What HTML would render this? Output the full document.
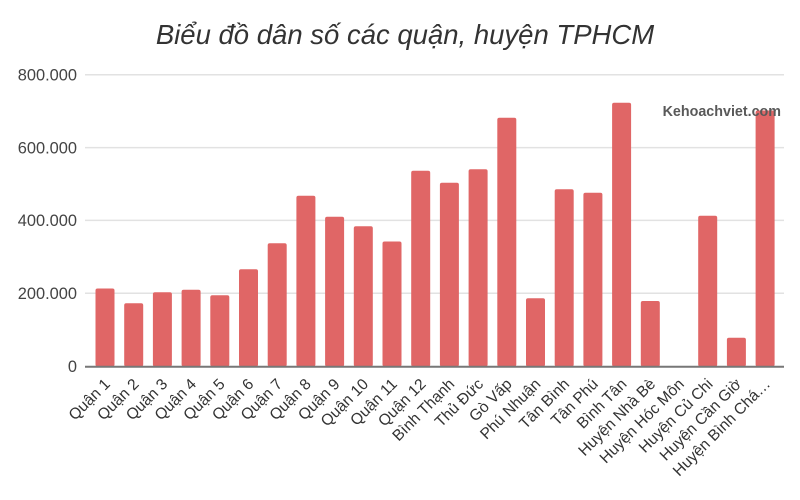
<!DOCTYPE html>
<html>
<head>
<meta charset="utf-8">
<style>
html,body{margin:0;padding:0;background:#fff;}
svg{display:block;}
</style>
</head>
<body>
<svg width="800" height="500" viewBox="0 0 800 500" xmlns="http://www.w3.org/2000/svg">
<rect x="0" y="0" width="800" height="500" fill="#ffffff"/>
<text x="405" y="44" text-anchor="middle" font-family="Liberation Sans, Arial, sans-serif" font-style="italic" font-size="27.5" fill="#333">Biểu đồ dân số các quận, huyện TPHCM</text>
<g stroke="#e2e2e2" stroke-width="1.5">
<line x1="85" y1="74.8" x2="784" y2="74.8"/>
<line x1="85" y1="147.6" x2="784" y2="147.6"/>
<line x1="85" y1="220.4" x2="784" y2="220.4"/>
<line x1="85" y1="293.2" x2="784" y2="293.2"/>
</g>
<g font-family="Liberation Sans, Arial, sans-serif" font-size="16.4" fill="#444" text-anchor="end">
<text x="77" y="80.6">800.000</text>
<text x="77" y="153.4">600.000</text>
<text x="77" y="226.2">400.000</text>
<text x="77" y="299">200.000</text>
<text x="77" y="371.8">0</text>
</g>
<g fill="#e06666">
<rect x="95.5" y="288.5" width="19" height="78" rx="2"/>
<rect x="124.2" y="303.3" width="19" height="63.2" rx="2"/>
<rect x="152.9" y="292.3" width="19" height="74.2" rx="2"/>
<rect x="181.6" y="289.7" width="19" height="76.8" rx="2"/>
<rect x="210.3" y="295.3" width="19" height="71.2" rx="2"/>
<rect x="239" y="269.3" width="19" height="97.2" rx="2"/>
<rect x="267.7" y="243.3" width="19" height="123.2" rx="2"/>
<rect x="296.4" y="195.7" width="19" height="170.8" rx="2"/>
<rect x="325.1" y="216.7" width="19" height="149.8" rx="2"/>
<rect x="353.8" y="226.3" width="19" height="140.2" rx="2"/>
<rect x="382.5" y="241.5" width="19" height="125" rx="2"/>
<rect x="411.2" y="170.7" width="19" height="195.8" rx="2"/>
<rect x="439.9" y="182.7" width="19" height="183.8" rx="2"/>
<rect x="468.6" y="169.3" width="19" height="197.2" rx="2"/>
<rect x="497.3" y="117.7" width="19" height="248.8" rx="2"/>
<rect x="526" y="298.3" width="19" height="68.2" rx="2"/>
<rect x="554.7" y="189.3" width="19" height="177.2" rx="2"/>
<rect x="583.4" y="192.7" width="19" height="173.8" rx="2"/>
<rect x="612.1" y="102.7" width="19" height="263.8" rx="2"/>
<rect x="640.8" y="301" width="19" height="65.5" rx="2"/>
<rect x="698.2" y="215.7" width="19" height="150.8" rx="2"/>
<rect x="726.9" y="337.7" width="19" height="28.8" rx="2"/>
<rect x="755.6" y="110.5" width="19" height="256" rx="2"/>
</g>
<line x1="85" y1="366.7" x2="784" y2="366.7" stroke="#777" stroke-width="2"/>
<text x="781" y="116" text-anchor="end" font-family="Liberation Sans, Arial, sans-serif" font-weight="bold" font-size="14.3" fill="#595959">Kehoachviet.com</text>
<g font-family="Liberation Sans, Arial, sans-serif" font-size="15.6" fill="#333" text-anchor="end">
<text transform="translate(111,385) rotate(-45)">Quận 1</text>
<text transform="translate(139.7,385) rotate(-45)">Quận 2</text>
<text transform="translate(168.4,385) rotate(-45)">Quận 3</text>
<text transform="translate(197.1,385) rotate(-45)">Quận 4</text>
<text transform="translate(225.8,385) rotate(-45)">Quận 5</text>
<text transform="translate(254.5,385) rotate(-45)">Quận 6</text>
<text transform="translate(283.2,385) rotate(-45)">Quận 7</text>
<text transform="translate(311.9,385) rotate(-45)">Quận 8</text>
<text transform="translate(340.6,385) rotate(-45)">Quận 9</text>
<text transform="translate(369.3,385) rotate(-45)">Quận 10</text>
<text transform="translate(398,385) rotate(-45)">Quận 11</text>
<text transform="translate(426.7,385) rotate(-45)">Quận 12</text>
<text transform="translate(455.4,385) rotate(-45)">Bình Thạnh</text>
<text transform="translate(484.1,385) rotate(-45)">Thủ Đức</text>
<text transform="translate(512.8,385) rotate(-45)">Gò Vấp</text>
<text transform="translate(541.5,385) rotate(-45)">Phú Nhuận</text>
<text transform="translate(570.2,385) rotate(-45)">Tân Bình</text>
<text transform="translate(598.9,385) rotate(-45)">Tân Phú</text>
<text transform="translate(627.6,385) rotate(-45)">Bình Tân</text>
<text transform="translate(656.3,385) rotate(-45)">Huyện Nhà Bè</text>
<text transform="translate(685,385) rotate(-45)">Huyện Hóc Môn</text>
<text transform="translate(713.7,385) rotate(-45)">Huyện Củ Chi</text>
<text transform="translate(742.4,385) rotate(-45)">Huyện Cần Giờ</text>
<text transform="translate(771.1,385) rotate(-45)">Huyện Bình Chá…</text>
</g>
</svg>
</body>
</html>
